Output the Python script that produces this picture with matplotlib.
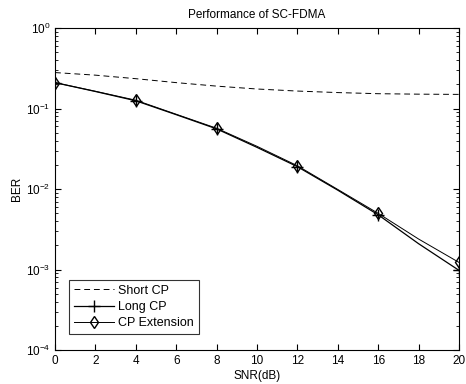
import matplotlib
matplotlib.use("Agg")
import matplotlib.pyplot as plt
from matplotlib.ticker import LogLocator, NullFormatter

plt.rcParams['font.family'] = ['Liberation Sans', 'DejaVu Sans']

snr = [0, 2, 4, 6, 8, 10, 12, 14, 16, 18, 20]
short_cp = [0.28, 0.26, 0.235, 0.21, 0.19, 0.175, 0.165, 0.158, 0.153, 0.151, 0.15]
long_cp = [0.21, 0.163, 0.125, 0.084, 0.056, 0.033, 0.019, 0.0097, 0.0048, 0.0021, 0.00098]
cp_ext = [0.21, 0.164, 0.127, 0.085, 0.057, 0.034, 0.0195, 0.0099, 0.0050, 0.0024, 0.00123]

fig = plt.figure(figsize=(4.66, 3.84), dpi=100)
ax = fig.add_axes([0.118, 0.088, 0.867, 0.839])

ax.semilogy(snr, short_cp, color='black', linestyle=(0, (6, 4)), linewidth=0.7, label='Short CP')
ax.semilogy(snr, long_cp, color='black', linestyle='-', linewidth=0.9, marker='+',
            markersize=8, markevery=2, label='Long CP')
ax.semilogy(snr, cp_ext, color='black', linestyle='-', linewidth=0.7, marker='d',
            markersize=6, markerfacecolor='none', markevery=2, label='CP Extension')

ax.set_xlim(0, 20)
ax.set_ylim(1e-4, 1)
ax.set_xticks(range(0, 21, 2))
ax.yaxis.set_major_locator(LogLocator(base=10, numticks=10))
ax.yaxis.set_minor_locator(LogLocator(base=10, subs=range(2, 10), numticks=10))
ax.yaxis.set_minor_formatter(NullFormatter())
ax.tick_params(which='both', direction='in', top=True, right=True, labelsize=8.5)
ax.tick_params(which='major', length=4)
ax.tick_params(which='minor', length=2)

ax.set_title('Performance of SC-FDMA', fontsize=8.5, pad=7)
ax.set_xlabel('SNR(dB)', fontsize=8.5, labelpad=2)
ax.set_ylabel('BER', fontsize=8.5, labelpad=2)

leg = ax.legend(loc='lower left', bbox_to_anchor=(0.02, 0.03), fontsize=9, frameon=True,
                fancybox=False, edgecolor='black', borderpad=0.4, labelspacing=0.35,
                handlelength=3.2, handletextpad=0.3)
leg.get_frame().set_linewidth(0.8)

fig.savefig('out.png', dpi=100)
